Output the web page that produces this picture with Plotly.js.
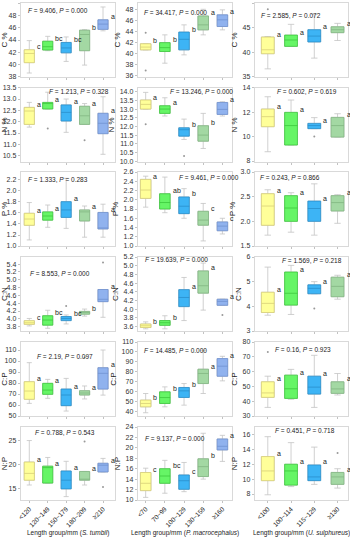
<!DOCTYPE html>
<html><head><meta charset="utf-8">
<script src="https://cdn.plot.ly/plotly-3.0.1.min.js"></script>
<style>html,body{margin:0;padding:0;background:#fff}#chart{width:350px;height:538px}</style>
</head><body><div id="chart"></div>
<script>
// ---------- categories ----------
const groupsTumbil = ["<120", "120~149", "150~179", "180~209", "≥210"];
const groupsMacro  = ["<70", "70~99", "100~129", "130~159", "≥160"];
const groupsSulph  = ["<100", "100~114", "115~129", "≥130"];

// ---------- box statistics: [lowerWhisker, Q1, median, Q3, upperWhisker] ----------
const C_tumbil = [[38.6,40.3,41.8,42.4,43.9],[42.25,42.36,42.9,43.8,44.6],[40.5,41.9,42.7,43.6,44.5],[39.9,42.25,44.9,45.6,45.7],[45.5,45.74,46.6,47.3,49.4]];
const C_macro  = [[40.7,40.7,41.2,41.8,41.8],[38.3,40.4,41.1,42.0,43.4],[39.8,40.7,42.6,43.9,45.2],[43.4,44.3,45.2,46.8,48.0],[44.3,44.9,46.1,47.0,47.9]];
const C_sulph  = [[36.6,39.7,40.5,43.1,43.2],[41.2,41.2,42.5,43.5,45.7],[38.8,42.1,43.3,44.6,47.7],[42.4,44.0,44.6,45.2,45.9]];

const N_tumbil = [[11.76,11.88,12.47,12.63,12.85],[12.56,12.56,12.8,12.85,13.3],[11.53,12.03,12.41,12.74,13.0],[11.88,11.88,12.26,12.68,12.8],[10.56,11.47,11.93,12.37,13.1]];
const N_macro  = [[13.0,13.0,13.27,13.52,13.96],[12.6,12.75,13.0,13.19,13.65],[11.25,11.44,11.81,11.92,12.42],[10.73,11.15,11.5,12.04,12.75],[12.6,12.69,12.98,13.38,13.42]];
const N_sulph  = [[8.76,10.81,11.63,12.25,13.26],[9.31,9.31,10.9,11.98,12.99],[10.65,10.65,10.9,11.08,11.55],[9.96,9.96,10.9,11.57,11.87]];

const P_tumbil = [[1.11,1.376,1.49,1.594,1.79],[1.34,1.47,1.545,1.62,1.745],[1.32,1.52,1.655,1.806,2.23],[1.16,1.455,1.62,1.655,1.727],[1.16,1.31,1.32,1.61,1.76]];
const P_macro  = [[1.84,2.03,2.21,2.44,2.51],[1.72,1.80,1.94,2.13,2.49],[1.60,1.70,1.86,2.06,2.24],[1.11,1.45,1.56,1.75,1.92],[1.26,1.33,1.43,1.52,1.60]];
const P_sulph  = [[1.72,1.92,2.31,2.56,2.64],[1.78,2.0,2.27,2.52,2.58],[1.72,2.0,2.26,2.41,2.76],[1.96,2.21,2.38,2.52,2.54]];

const CN_tumbil = [[3.82,3.86,3.90,3.953,4.01],[3.76,3.84,3.97,4.08,4.22],[3.87,3.955,4.01,4.06,4.10],[4.07,4.12,4.17,4.19,4.25],[4.04,4.44,4.50,4.75,4.75]];
const CN_macro  = [[3.55,3.58,3.62,3.66,3.71],[3.55,3.63,3.69,3.74,3.85],[3.74,4.06,4.27,4.45,4.73],[3.98,4.37,4.54,4.88,5.06],[4.09,4.09,4.18,4.23,4.23]];
const CN_sulph  = [[3.64,3.75,4.12,4.57,5.59],[3.67,4.05,4.53,5.39,5.66],[4.51,4.51,4.73,4.87,5.0],[4.29,4.39,4.81,5.18,5.26]];

const CP_tumbil = [[61.5,65.2,72.7,81.2,98.5],[66.1,69.7,73.6,79.7,83.3],[54.5,59.4,69.1,74.5,84.2],[65.5,69.1,70.9,73.0,77.3],[69.0,74.5,88.8,93.9,110]];
const CP_macro  = [[38.3,44.3,47.7,51.1,57.8],[44.3,47.7,53.7,59.5,64.5],[46.0,53.8,60.5,63.9,67.9],[57.8,67.9,78.1,82.4,101.6],[70.6,75.3,85.5,93.2,95.5]];
const CP_sulph  = [[35.8,42.6,45.6,53.1,56.9],[41.3,41.9,48.4,57.6,61.5],[35.8,44.8,49.5,56.9,71.0],[44.2,45.3,48.3,53.1,58.7]];

const NP_tumbil = [[15.7,16.7,18.1,20.45,24.9],[16.1,16.1,19.3,19.6,21.4],[13.3,14.9,16.7,18.6,20.6],[15.7,16.7,16.8,18.5,18.5],[18.4,18.4,19.8,20.2,21.2]];
const NP_macro  = [[10.5,11.8,13.2,15.27,16.1],[11.3,13.2,14.6,16.0,17.6],[11.6,12.05,13.7,14.8,17.2],[14.0,14.5,16.4,17.9,22.8],[17.4,19.6,20.3,21.7,22.4]];
const NP_sulph  = [[7.9,9.8,11.1,13.03,15.7],[9.0,9.2,11.1,12.0,14.9],[9.3,9.8,10.3,11.9,14.3],[8.8,9.3,10.3,10.9,11.4]];

// ---------- outliers: [groupIndex, value] ----------
const O_C_macro  = [[0,43.8],[0,37.0]];
const O_C_sulph  = [[0,48.8]];
const O_N_tumbil = [[1,11.7],[3,11.18]];
const O_N_macro  = [[0,12.12],[2,10.3]];
const O_N_sulph  = [[2,10.0]];
const O_CN_tumbil = [[2,4.33],[4,5.44]];
const O_CN_macro  = [[4,3.87]];
const O_CN_sulph  = [[2,3.91]];
const O_CP_tumbil = [[3,103.3]];
const O_CP_sulph  = [[0,73.3]];
const O_NP_tumbil = [[3,24.7],[4,15.3]];
const O_NP_sulph  = [[3,13.5]];

// ---------- significance letters ----------
const L_C_tumbil = ["c","bc","bc","b","a"];
const L_C_macro  = ["b","b","b","a","a"];
const L_C_sulph  = ["a","a","a","a"];
const L_N_tumbil = ["a","a","a","a","a"];
const L_N_macro  = ["a","a","b","b","a"];
const L_N_sulph  = ["a","a","a","a"];
const L_P_tumbil = ["a","a","a","a","a"];
const L_P_macro  = ["a","ab","b","c","c"];
const L_P_sulph  = ["a","a","a","a"];
const L_CN_tumbil = ["c","bc","bc","b","a"];
const L_CN_macro  = ["b","b","a","a","a"];
const L_CN_sulph  = ["a","a","a","a"];
const L_CP_tumbil = ["a","a","a","a","a"];
const L_CP_macro  = ["b","b","b","a","a"];
const L_CP_sulph  = ["a","a","a","a"];
const L_NP_tumbil = ["a","a","a","a","a"];
const L_NP_macro  = ["c","bc","c","b","a"];
const L_NP_sulph  = ["a","a","a","a"];

// ---------- ANOVA text ----------
const F_texts = [
  ["9.406","0.000"],["34.417","0.000"],["2.585","0.072"],
  ["1.213","0.328"],["13.246","0.000"],["0.602","0.619"],
  ["1.333","0.283"],["9.461","0.000"],["0.243","0.866"],
  ["8.553","0.000"],["19.639","0.000"],["1.569","0.218"],
  ["2.19","0.097"],["14.485","0.000"],["0.16","0.923"],
  ["0.788","0.543"],["9.137","0.000"],["0.451","0.718"]
];
const yTitles = ["C %","N %","P %","C:N","C:P","N:P"];
const species = ["S. tumbil","P. macrocephalus","U. sulphureus"];

// ---------- layout config ----------
const W = 350, H = 538;
const colX = [[21,115],[138,232],[255,348]];
const rowY = [[3.3,76.7],[87.7,162],[172,246],[257,331],[342,416],[427,500]];
const xRanges = [[-0.45,4.65],[-0.4,4.5],[-0.55,3.45]];
const groupsByCol = [groupsTumbil, groupsMacro, groupsSulph];

const panelStats = [
  [C_tumbil,C_macro,C_sulph],[N_tumbil,N_macro,N_sulph],[P_tumbil,P_macro,P_sulph],
  [CN_tumbil,CN_macro,CN_sulph],[CP_tumbil,CP_macro,CP_sulph],[NP_tumbil,NP_macro,NP_sulph]
];
const panelLetters = [
  [L_C_tumbil,L_C_macro,L_C_sulph],[L_N_tumbil,L_N_macro,L_N_sulph],[L_P_tumbil,L_P_macro,L_P_sulph],
  [L_CN_tumbil,L_CN_macro,L_CN_sulph],[L_CP_tumbil,L_CP_macro,L_CP_sulph],[L_NP_tumbil,L_NP_macro,L_NP_sulph]
];
const panelOutliers = [
  [[],O_C_macro,O_C_sulph],[O_N_tumbil,O_N_macro,O_N_sulph],[[],[],[]],
  [O_CN_tumbil,O_CN_macro,O_CN_sulph],[O_CP_tumbil,[],O_CP_sulph],[O_NP_tumbil,[],O_NP_sulph]
];
const yAxisCfg = [
  [{r:[38,50],d:2},{r:[35.87,49.08],d:2},{r:[35,50],d:5}],
  [{r:[10.22,13.5],d:0.5,f:'.1f'},{r:[9.95,14.23],d:0.5,f:'.1f'},{r:[7.92,14],d:2}],
  [{r:[1.0,2.345],d:0.2,f:'.1f'},{r:[1.0,2.6],d:0.2,f:'.1f'},{r:[1.5,3.0],d:0.5,f:'.1f'}],
  [{r:[3.69,5.58],d:0.2,f:'.1f',t0:3.8},{r:[3.5,5.2],d:0.2,f:'.1f',t0:3.6},{r:[3,6],d:1}],
  [{r:[50,117.3],d:10},{r:[35,110],d:10,t0:40},{r:[30,80],d:10}],
  [{r:[12.6,27.7],d:5},{r:[10,24],d:2},{r:[7.2,17.0],d:2,t0:8}]
];
const fPos = [
  [[0.05,0.90],[0.04,0.88],[0.04,0.84]],
  [[0.28,0.955],[0.32,0.95],[0.21,0.95]],
  [[0.05,0.90],[0.41,0.92],[0.03,0.92]],
  [[0.075,0.78],[0.05,0.96],[0.27,0.95]],
  [[0.15,0.81],[0.04,0.88],[0.19,0.90]],
  [[0.13,0.92],[0.05,0.84],[0.19,0.95]]
];

const fills = ['#FFFF99','#66F566','#3DB4F5','#A3D8A3','#90B2EE'];
const edges = ['#D8CF78','#3CC83C','#2A8FCC','#82B682','#7092D0'];
const whiskerColor = '#C4C4C4';
const FONT = 'Liberation Sans, Arial, sans-serif';

const data = [];
const layout = {
  width: W, height: H, margin: {l:0,r:0,t:0,b:0},
  paper_bgcolor:'#fff', plot_bgcolor:'#fff', showlegend:false,
  boxmode:'overlay', font:{family:FONT, color:'#222', size:7},
  annotations: []
};

for (let r = 0; r < 6; r++) {
  for (let c = 0; c < 3; c++) {
    const id = r*3 + c + 1;
    const xa = id === 1 ? 'x' : 'x'+id;
    const ya = id === 1 ? 'y' : 'y'+id;
    const xk = id === 1 ? 'xaxis' : 'xaxis'+id;
    const yk = id === 1 ? 'yaxis' : 'yaxis'+id;
    const groups = groupsByCol[c];
    const stats = panelStats[r][c];
    const letters = panelLetters[r][c];
    const yc = yAxisCfg[r][c];
    const isBottom = (r === 5);

    layout[xk] = {
      domain:[colX[c][0]/W, colX[c][1]/W], anchor: ya,
      range: xRanges[c], tickvals: groups.map((g,i)=>i), ticktext: groups,
      showticklabels: isBottom, tickangle: -45, tickfont:{size:6.5, color:'#222'},
      ticks:'outside', ticklen:2, tickcolor:'#999', tickwidth:0.6,
      showline:true, linecolor:'#CFCFCF', linewidth:0.8, mirror:true,
      showgrid:false, zeroline:false, fixedrange:true
    };
    layout[yk] = {
      domain:[1-rowY[r][1]/H, 1-rowY[r][0]/H], anchor: xa,
      range: yc.r, dtick: yc.d, tick0: (yc.t0!==undefined?yc.t0:0), tickformat: yc.f || '',
      tickfont:{size:7, color:'#333'},
      ticks:'outside', ticklen:2.5, tickcolor:'#999', tickwidth:0.6,
      showline:true, linecolor:'#CFCFCF', linewidth:0.8, mirror:true,
      showgrid:false, zeroline:false, fixedrange:true,
      title:{text: yTitles[r], font:{size:8, color:'#222'}, standoff:3}
    };

    stats.forEach((s, i) => {
      data.push({type:'box', xaxis:xa, yaxis:ya, x:[i],
        lowerfence:[s[0]], q1:[s[1]], median:[s[2]], q3:[s[3]], upperfence:[s[4]],
        width:0.55, whiskerwidth:0.5, boxpoints:false,
        line:{color:whiskerColor, width:0.8}, fillcolor:'rgba(0,0,0,0)', hoverinfo:'skip'});
      data.push({type:'box', xaxis:xa, yaxis:ya, x:[i],
        lowerfence:[s[1]], q1:[s[1]], median:[s[2]], q3:[s[3]], upperfence:[s[3]],
        width:0.55, whiskerwidth:0, boxpoints:false,
        line:{color:edges[i], width:0.8}, fillcolor:fills[i], hoverinfo:'skip'});
      layout.annotations.push({xref:xa, yref:ya, x:i+0.3, y:s[3], text:letters[i],
        showarrow:false, xanchor:'left', yanchor:'middle', yshift:3,
        font:{size:7, color:'#222', family:FONT}});
    });

    const outs = panelOutliers[r][c];
    if (outs.length) {
      data.push({type:'scatter', mode:'markers', xaxis:xa, yaxis:ya,
        x: outs.map(o=>o[0]), y: outs.map(o=>o[1]),
        marker:{size:2, color:'#999'}, hoverinfo:'skip'});
    }

    const ft = F_texts[id-1];
    layout.annotations.push({
      xref: xa+' domain', yref: ya+' domain', x: fPos[r][c][0], y: fPos[r][c][1],
      text: '<i>F</i> = '+ft[0]+', <i>P</i> = '+ft[1],
      showarrow:false, xanchor:'left', yanchor:'middle',
      font:{size:6.5, color:'#222', family:FONT}
    });
  }
}

const titleX = [68, 185, 301];
for (let c = 0; c < 3; c++) {
  layout.annotations.push({xref:'paper', yref:'paper', x:titleX[c]/W, y:1-533/H,
    text:'Length group/mm (<i>'+species[c]+'</i>)', showarrow:false,
    xanchor:'center', yanchor:'middle', font:{size:6.5, color:'#222', family:FONT}});
}

Plotly.newPlot('chart', data, layout, {staticPlot:true, displayModeBar:false});
</script>
</body></html>
